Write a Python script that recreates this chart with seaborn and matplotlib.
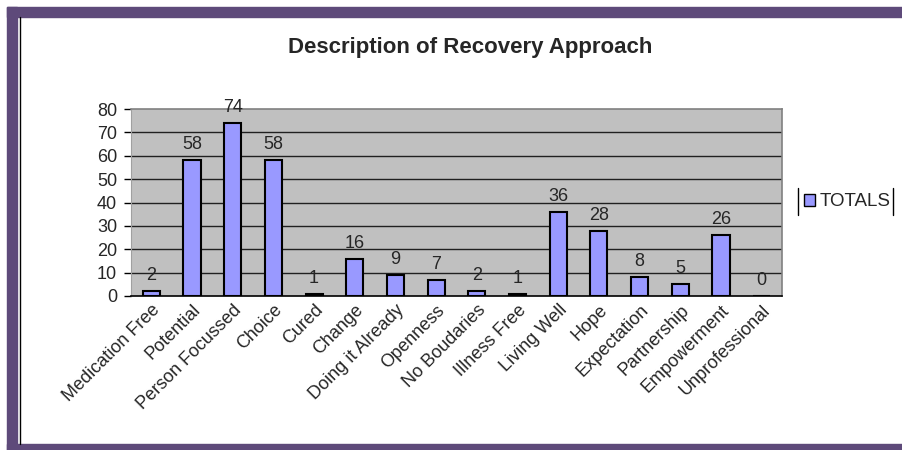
import matplotlib
matplotlib.use("Agg")
import matplotlib.pyplot as plt
from matplotlib.lines import Line2D
from matplotlib.patches import Rectangle, Patch
import seaborn as sns
import numpy as np

categories = ["Medication Free", "Potential", "Person Focussed", "Choice", "Cured",
              "Change", "Doing it Already", "Openness", "No Boudaries", "Illness Free",
              "Living Well", "Hope", "Expectation", "Partnership", "Empowerment",
              "Unprofessional"]
totals = [2, 58, 74, 58, 1, 16, 9, 7, 2, 1, 36, 28, 8, 5, 26, 0]
yticks = [0, 10, 20, 30, 40, 50, 60, 70, 80]
series_name = "TOTALS"
title = "Description of Recovery Approach"

sns.set_style("white")
plt.rcParams['font.family'] = ['Liberation Sans', 'DejaVu Sans']

fig = plt.figure(figsize=(9.02, 4.5), dpi=100)
ax = fig.add_axes([131/902, 1-296/450, (782-131)/902, (296-109)/450])
ax.set_facecolor("#C0C0C0")

sns.barplot(x=categories, y=totals, color="#9999FF", edgecolor="black",
            linewidth=1.5, width=0.42, ax=ax, saturation=1)

ax.set_ylim(0, 80)
ax.set_xlim(-0.5, len(categories) - 0.5)
ax.set_yticks(yticks)
ax.set_yticklabels([str(t) for t in yticks], fontsize=13)
for t in yticks[1:-1]:
    ax.axhline(t, color="#202020", linewidth=1.0, zorder=0.5)

ax.set_xticks(range(len(categories)))
ax.set_xticklabels(categories, rotation=45, ha="right", rotation_mode="anchor",
                   fontsize=13)
ax.tick_params(axis="x", which="major", length=0, pad=4)
ax.set_xticks(np.arange(-0.5, len(categories), 1.0), minor=True)
ax.tick_params(axis="x", which="minor", length=5, color="black", width=1)
ax.tick_params(axis="y", length=5, color="black", width=1, left=True, pad=5)
ax.set_xlabel("")
ax.set_ylabel("")

for s in ["top", "right"]:
    ax.spines[s].set_color("#808080")
    ax.spines[s].set_linewidth(1.2)
ax.spines["left"].set_color("#A0A0A0")
ax.spines["bottom"].set_color("black")
ax.spines["bottom"].set_linewidth(1.2)

for i, v in enumerate(totals):
    ax.annotate(str(v), (i, v), xytext=(0, 5), textcoords="offset points",
                ha="center", va="bottom", fontsize=13)

fig.text(470/902, 1-47/450, title, ha="center", va="center", fontsize=16,
         fontweight="bold")

# legend
leg = fig.legend(handles=[Patch(facecolor="#9999FF", edgecolor="black", linewidth=1)],
                 labels=[series_name], loc="center", bbox_to_anchor=(847/902, 1-202/450),
                 frameon=False, fontsize=13.5, handlelength=0.6, handleheight=0.6,
                 handletextpad=0.25, borderpad=0.2)
fig.add_artist(Line2D([798/902, 798/902], [1-188/450, 1-215/450], color="black", lw=1,
                      transform=fig.transFigure))
fig.add_artist(Line2D([893/902, 893/902], [1-188/450, 1-215/450], color="black", lw=1,
                      transform=fig.transFigure))

# purple frame
purple = "#5E4A7A"
fig.add_artist(Rectangle((7/902, 1-17/450), 1, 10/450, color=purple, transform=fig.transFigure))
fig.add_artist(Rectangle((7/902, 0), 10/902, 1-7/450, color=purple, transform=fig.transFigure))
fig.add_artist(Rectangle((7/902, 0), 1, 6/450, color=purple, transform=fig.transFigure))
fig.add_artist(Line2D([20/902, 20/902], [6/450, 1-17/450], color="black", lw=1,
                      transform=fig.transFigure))

fig.savefig("out.png", dpi=100)
